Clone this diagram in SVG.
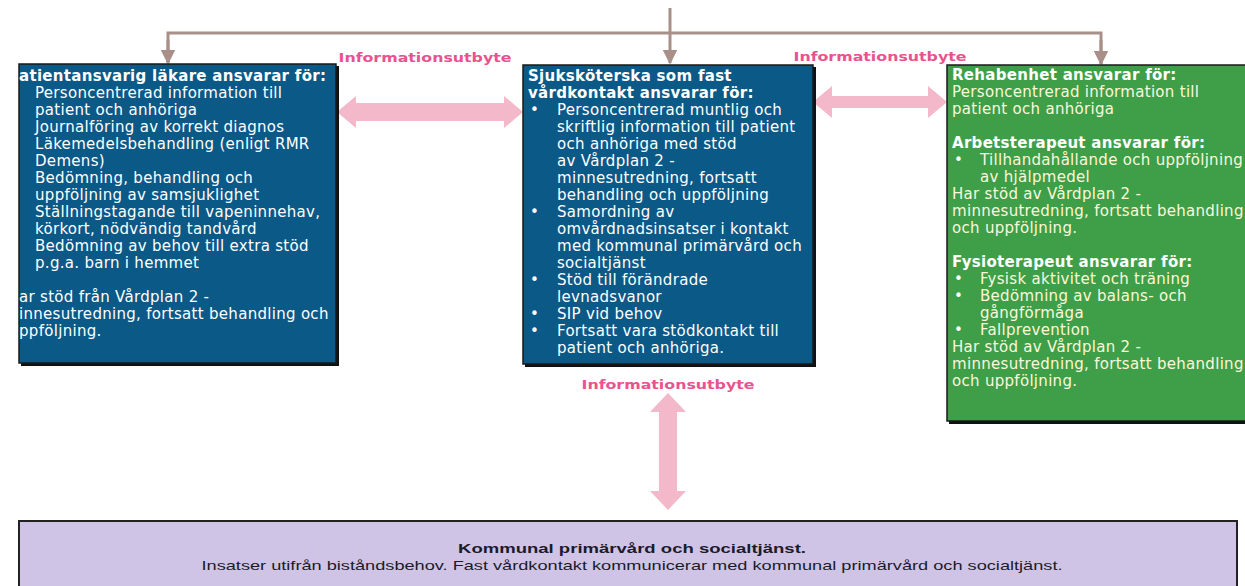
<svg xmlns="http://www.w3.org/2000/svg" width="1245" height="586" viewBox="0 0 1245 586">
<defs>
<style>
.t{font-family:"DejaVu Sans",Verdana,sans-serif;font-size:15px;letter-spacing:0.3px;fill:#ffffff}
.b{font-weight:bold}
.y{fill:#fbf8dc}
.lbl{font-family:"DejaVu Sans",Verdana,sans-serif;font-size:12px;font-weight:bold;fill:#e8538f}
.conn{stroke:#a89089;stroke-width:3;fill:none}
.pink{fill:#f4b8cb}
.box{stroke:#1a1a1a;stroke-width:1.5}
.shadow{fill:#111}
.bt{font-family:"Liberation Sans",Arial,sans-serif;font-size:13px;fill:#1b1b2a}
</style>
<marker id="ah" viewBox="0 0 10 10" refX="9" refY="5" markerWidth="5" markerHeight="5" orient="auto" markerUnits="strokeWidth">
<path d="M0,0 L10,5 L0,10 z" fill="#a89089"/>
</marker>
</defs>
<rect width="1245" height="586" fill="#ffffff"/>

<g id="connectors">
<line class="conn" x1="670" y1="8" x2="670" y2="63" marker-end="url(#ah)"/>
<polyline class="conn" points="168,62 168,33 1101,33 1101,64"/>
<line class="conn" x1="168" y1="40" x2="168" y2="63" marker-end="url(#ah)"/>
<line class="conn" x1="1101" y1="40" x2="1101" y2="64" marker-end="url(#ah)"/>
<path class="pink" d="M337,112 L356,96 L356,103 L504,103 L504,96 L523,112 L504,128 L504,121 L356,121 L356,128 Z"/>
<path class="pink" d="M813,102 L832,86 L832,96 L928,96 L928,86 L947,102 L928,118 L928,108 L832,108 L832,118 Z"/>
<path class="pink" d="M668,393 L686,412 L677,412 L677,491 L686,491 L668,510 L650,491 L659,491 L659,412 L650,412 Z"/>
<text class="lbl" x="425" y="62" text-anchor="middle" textLength="173" lengthAdjust="spacingAndGlyphs">Informationsutbyte</text>
<text class="lbl" x="880" y="61" text-anchor="middle" textLength="173" lengthAdjust="spacingAndGlyphs">Informationsutbyte</text>
<text class="lbl" x="668" y="389" text-anchor="middle" textLength="173" lengthAdjust="spacingAndGlyphs">Informationsutbyte</text>
</g>

<g id="node-lakare">
<rect class="shadow" x="21" y="66" width="318" height="300"/>
<rect class="box" x="19" y="64" width="317" height="299" fill="#0b5987"/>
<text class="t b" x="19" y="81">atientansvarig läkare ansvarar för:</text>
<text class="t" x="35" y="98">Personcentrerad information till</text>
<text class="t" x="35" y="115">patient och anhöriga</text>
<text class="t" x="35" y="132">Journalföring av korrekt diagnos</text>
<text class="t" x="35" y="149">Läkemedelsbehandling (enligt RMR</text>
<text class="t" x="35" y="166">Demens)</text>
<text class="t" x="35" y="183">Bedömning, behandling och</text>
<text class="t" x="35" y="200">uppföljning av samsjuklighet</text>
<text class="t" x="35" y="217">Ställningstagande till vapeninnehav,</text>
<text class="t" x="35" y="234">körkort, nödvändig tandvård</text>
<text class="t" x="35" y="251">Bedömning av behov till extra stöd</text>
<text class="t" x="35" y="268">p.g.a. barn i hemmet</text>
<text class="t" x="19" y="302">ar stöd från Vårdplan 2 -</text>
<text class="t" x="19" y="319">innesutredning, fortsatt behandling och</text>
<text class="t" x="19" y="336">ppföljning.</text>
</g>

<g id="node-sjukskoterska">
<rect class="shadow" x="525" y="67" width="291" height="300"/>
<rect class="box" x="523" y="65" width="290" height="299" fill="#0b5987"/>
<text class="t b" x="528" y="81">Sjuksköterska som fast</text>
<text class="t b" x="528" y="98">vårdkontakt ansvarar för:</text>
<text class="t" x="530" y="115">•</text>
<text class="t" x="557" y="115">Personcentrerad muntlig och</text>
<text class="t" x="557" y="132">skriftlig information till patient</text>
<text class="t" x="557" y="149">och anhöriga med stöd</text>
<text class="t" x="557" y="166">av Vårdplan 2 -</text>
<text class="t" x="557" y="183">minnesutredning, fortsatt</text>
<text class="t" x="557" y="200">behandling och uppföljning</text>
<text class="t" x="530" y="217">•</text>
<text class="t" x="557" y="217">Samordning av</text>
<text class="t" x="557" y="234">omvårdnadsinsatser i kontakt</text>
<text class="t" x="557" y="251">med kommunal primärvård och</text>
<text class="t" x="557" y="268">socialtjänst</text>
<text class="t" x="530" y="285">•</text>
<text class="t" x="557" y="285">Stöd till förändrade</text>
<text class="t" x="557" y="302">levnadsvanor</text>
<text class="t" x="530" y="319">•</text>
<text class="t" x="557" y="319">SIP vid behov</text>
<text class="t" x="530" y="336">•</text>
<text class="t" x="557" y="336">Fortsatt vara stödkontakt till</text>
<text class="t" x="557" y="353">patient och anhöriga.</text>
</g>

<g id="node-rehab">
<rect class="shadow" x="949" y="67" width="310" height="357"/>
<rect class="box" x="947" y="65" width="310" height="356" fill="#3e9f48"/>
<text class="t b" x="952" y="80">Rehabenhet ansvarar för:</text>
<text class="t y" x="952" y="97">Personcentrerad information till</text>
<text class="t y" x="952" y="114">patient och anhöriga</text>
<text class="t b" x="952" y="148">Arbetsterapeut ansvarar för:</text>
<text class="t" x="954" y="165">•</text>
<text class="t y" x="980" y="165">Tillhandahållande och uppföljning</text>
<text class="t y" x="980" y="182">av hjälpmedel</text>
<text class="t y" x="952" y="199">Har stöd av Vårdplan 2 -</text>
<text class="t y" x="952" y="216">minnesutredning, fortsatt behandling</text>
<text class="t y" x="952" y="233">och uppföljning.</text>
<text class="t b" x="952" y="267">Fysioterapeut ansvarar för:</text>
<text class="t" x="954" y="284">•</text>
<text class="t y" x="980" y="284">Fysisk aktivitet och träning</text>
<text class="t" x="954" y="301">•</text>
<text class="t y" x="980" y="301">Bedömning av balans- och</text>
<text class="t y" x="980" y="318">gångförmåga</text>
<text class="t" x="954" y="335">•</text>
<text class="t y" x="980" y="335">Fallprevention</text>
<text class="t y" x="952" y="352">Har stöd av Vårdplan 2 -</text>
<text class="t y" x="952" y="369">minnesutredning, fortsatt behandling</text>
<text class="t y" x="952" y="386">och uppföljning.</text>
</g>

<g id="node-kommunal">
<rect x="19" y="521" width="1218" height="70" fill="#d0c4e6" stroke="#222" stroke-width="2"/>
<text class="bt b" x="632" y="553" text-anchor="middle" textLength="348" lengthAdjust="spacingAndGlyphs">Kommunal primärvård och socialtjänst.</text>
<text class="bt" x="632" y="570" text-anchor="middle" textLength="861" lengthAdjust="spacingAndGlyphs">Insatser utifrån biståndsbehov. Fast vårdkontakt kommunicerar med kommunal primärvård och socialtjänst.</text>
</g>
</svg>
